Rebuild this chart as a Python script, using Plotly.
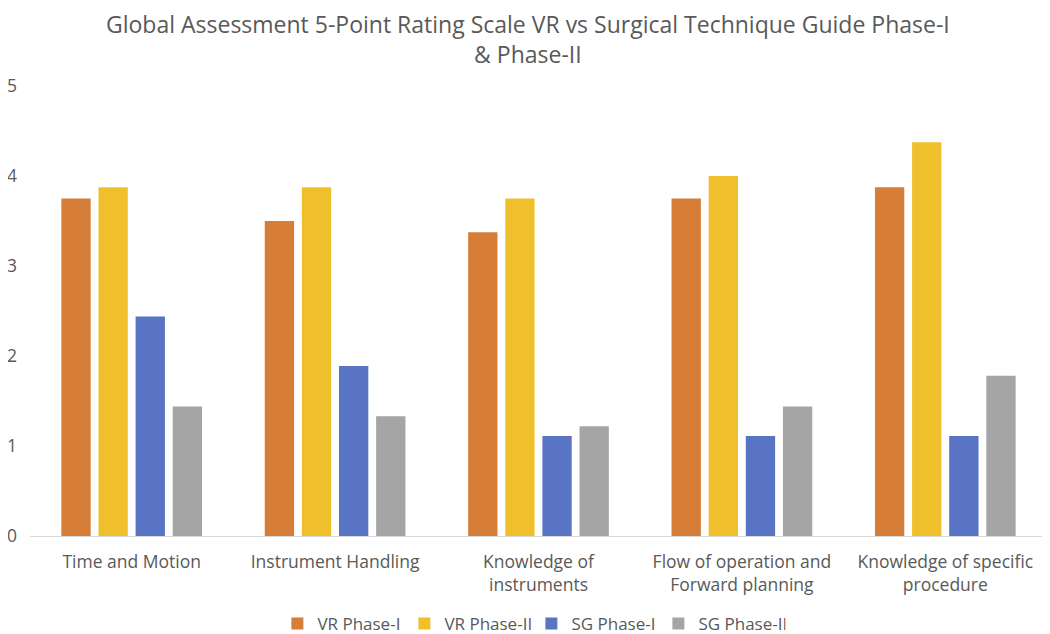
import plotly.graph_objects as go

categories = ["Time and Motion", "Instrument Handling", "Knowledge of<br>instruments",
              "Flow of operation and<br>Forward planning", "Knowledge of specific<br>procedure"]
vr_phase1 = [3.75, 3.5, 3.375, 3.75, 3.875]
vr_phase2 = [3.875, 3.875, 3.75, 4.0, 4.375]
sg_phase1 = [2.44, 1.89, 1.11, 1.11, 1.11]
sg_phase2 = [1.44, 1.33, 1.22, 1.44, 1.78]
series_names = ["VR Phase-I", "VR Phase-II", "SG Phase-I", "SG Phase-II"]
colors = ["#D67D37", "#F0BF2C", "#5874C2", "#A5A5A5"]
title_text = "Global Assessment 5-Point Rating Scale VR vs Surgical Technique Guide Phase-I<br>& Phase-II"

font_family = "Open Sans, Noto Sans, sans-serif"
text_color = "#595959"

fig = go.Figure()
for name, vals, col in zip(series_names, [vr_phase1, vr_phase2, sg_phase1, sg_phase2], colors):
    fig.add_trace(go.Bar(x=categories, y=vals, name=name, marker_color=col,
                         marker_line_width=0))

fig.add_annotation(text=title_text, xref="paper", yref="paper", x=0.49, y=1.177,
                   xanchor="center", yanchor="top", showarrow=False,
                   font=dict(family=font_family, size=23, color=text_color))

# the page body adds an 8px margin, so the figure is sized 8px smaller each way
fig.update_layout(
    width=1042, height=626,
    paper_bgcolor="white", plot_bgcolor="white",
    barmode="group", bargap=0.27, bargroupgap=0.21,
    margin=dict(l=22, r=3, t=78, b=98, autoexpand=False),
    font=dict(family=font_family, color=text_color, size=17),
    xaxis=dict(showgrid=False, showline=True, linecolor="#D9D9D9", linewidth=1,
               ticks="", ticklabelstandoff=10, tickfont=dict(size=17.5, color=text_color)),
    yaxis=dict(range=[0, 5], dtick=1, showgrid=False, zeroline=False, showline=False,
               ticks="", ticklabelstandoff=12, tickfont=dict(size=17.5, color=text_color)),
    legend=dict(orientation="h", x=0.493, xanchor="center", y=-0.1956, yanchor="middle",
                font=dict(size=17, color=text_color), itemwidth=30,
                entrywidth=82, entrywidthmode="pixels",
                traceorder="normal"),
)

fig.write_html("out.html")
